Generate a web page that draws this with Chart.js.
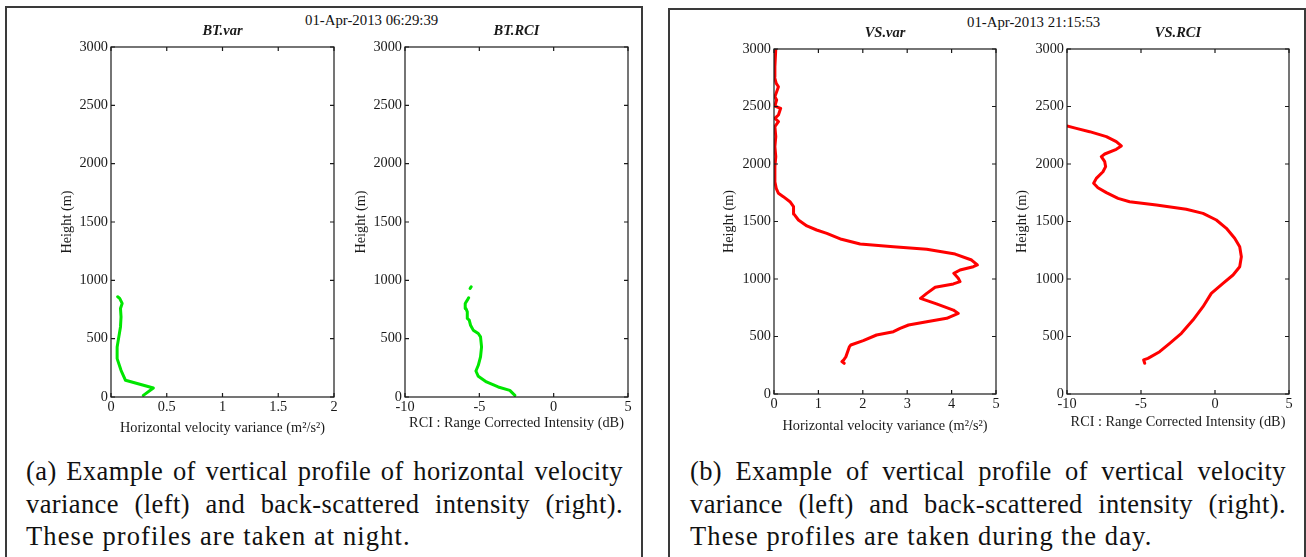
<!DOCTYPE html>
<html>
<head>
<meta charset="utf-8">
<script src="https://cdn.jsdelivr.net/npm/chart.js@4.4.1/dist/chart.umd.min.js"></script>
<style>
  html, body { margin: 0; padding: 0; background: #fff; }
  body { width: 1306px; height: 557px; position: relative; overflow: hidden; font-family: "Liberation Serif", serif; }
  .panel { position: absolute; border: 2px solid #3a3a3a; box-sizing: border-box; }
  .box { position: absolute; }
  .stamp { position: absolute; font-size: 14.8px; color: #111; white-space: nowrap; line-height: 16px; }
  .caption { position: absolute; font-size: 26.5px; line-height: 32.5px; color: #111; letter-spacing: 1.1px; }
  .caption div { white-space: nowrap; }
  .caption .full { text-align: justify; text-align-last: justify; letter-spacing: 0.4px; }
</style>
</head>
<body>

<div class="panel" style="left:5px; top:6px; width:638px; height:600px;"></div>
<div class="panel" style="left:668px; top:8px; width:638px; height:600px;"></div>

<div class="stamp" style="left:305px; top:12px;">01-Apr-2013 06:29:39</div>
<div class="stamp" style="left:967px; top:14px;">01-Apr-2013 21:15:53</div>

<div class="box" id="b1"><canvas id="c1"></canvas></div>
<div class="box" id="b2"><canvas id="c2"></canvas></div>
<div class="box" id="b3"><canvas id="c3"></canvas></div>
<div class="box" id="b4"><canvas id="c4"></canvas></div>

<div class="caption" style="left:26px; top:455px; width:597px;">
  <div class="full">(a) Example of vertical profile of horizontal velocity</div>
  <div class="full">variance (left) and back-scattered intensity (right).</div>
  <div>These profiles are taken at night.</div>
</div>
<div class="caption" style="left:690px; top:455px; width:596px;">
  <div class="full">(b) Example of vertical profile of vertical velocity</div>
  <div class="full">variance (left) and back-scattered intensity (right).</div>
  <div>These profiles are taken during the day.</div>
</div>

<script>
"use strict";

// night profile (BT) : horizontal velocity variance vs height
let btVarHeight = [14, 77, 143, 229, 329, 429, 515, 601, 687, 759, 802, 845, 859];
let btVarValue  = [0.29, 0.38, 0.13, 0.09, 0.055, 0.055, 0.07, 0.085, 0.09, 0.085, 0.10, 0.078, 0.06];

// night profile (BT) : range corrected intensity, null = missing gate
let btRciHeight = [14, 57, 86, 129, 177, 223, 272, 344, 429, 515, 544, 573, 615, 658, 673, 730, 759, 802, 830, 850, 895, 930, 945];
let btRciValue  = [-2.61, -2.95, -3.73, -4.52, -5.07, -5.23, -5.07, -4.92, -4.85, -4.92, -5.07, -5.41, -5.59, -5.68, -5.81, -5.81, -5.90, -5.95, -5.81, -5.72, null, -5.62, -5.55];

// day profile (VS) : vertical velocity variance vs height
let vsVarHeight = [267, 282, 296, 325, 412, 426, 464, 513, 542, 571, 600, 629, 658, 701, 730, 783, 832, 875, 928, 957, 977,
    1006, 1049, 1078, 1107, 1122, 1165, 1217, 1258, 1281, 1304, 1345, 1397, 1426, 1461, 1513, 1565, 1629, 1672, 1716, 1745,
    1788, 1846, 1977, 2064, 2151, 2238, 2325, 2368, 2397, 2426, 2484, 2504, 2557, 2586, 2629, 2672, 2701, 2759, 2846, 3000];
let vsVarValue  = [1.58, 1.53, 1.57, 1.62, 1.70, 1.73, 2.01, 2.31, 2.69, 2.84, 3.03, 3.44, 3.89, 4.15, 4.04, 3.66, 3.30, 3.44, 3.63, 4.04, 4.19,
    4.15, 4.05, 4.19, 4.49, 4.58, 4.45, 4.08, 3.44, 2.69, 1.94, 1.52, 1.19, 0.96, 0.74, 0.55, 0.45, 0.44, 0.36, 0.21, 0.10,
    0.05, 0.02, 0.02, 0.04, 0.02, 0.04, 0.02, 0.10, 0.02, 0.10, 0.15, 0.02, 0.06, 0.02, 0.06, 0.10, 0.05, 0.01, 0.02, 0.04];

// day profile (VS) : range corrected intensity
let vsRciHeight = [267, 296, 310, 368, 441, 528, 643, 759, 875, 962, 1035, 1107, 1194, 1281, 1354, 1441, 1513, 1571, 1606, 1643,
    1672, 1701, 1751, 1794, 1832, 1875, 1933, 1977, 2020, 2064, 2087, 2128, 2157, 2194, 2238, 2281, 2310, 2330];
let vsRciValue  = [-4.75, -4.82, -4.53, -3.74, -3.06, -2.27, -1.49, -0.81, -0.25, 0.54, 1.22, 1.67, 1.78, 1.67, 1.33, 0.77, 0.09, -0.81, -1.94, -3.96,
    -5.77, -6.55, -7.34, -7.91, -8.20, -8.02, -7.57, -7.39, -7.45, -7.68, -7.45, -6.67, -6.33, -6.67, -7.34, -8.47, -9.37, -10.0];

let varTicks = [0, 0.5, 1, 1.5, 2];
let rciTicks = [-10, -5, 0, 5];
let vsVarTicks = [0, 1, 2, 3, 4, 5];
let heightTicks = [0, 500, 1000, 1500, 2000, 2500, 3000];

const GREEN = '#00e600';
const RED = '#ff0000';
const INK = '#1a1a1a';
const FONT = 'Liberation Serif';
const FS = 14.3;
const LH = FS * 1.2;          // line height of the axis font
const TOP_PAD = 28;           // room above the plot for the panel title

// MATLAB-like box: frame on all sides with ticks pointing inwards, title over the plot
const frameTicks = {
    id: 'frameTicks',
    afterDraw(chart) {
        let ctx = chart.ctx;
        let a = chart.chartArea;
        let sx = chart.scales.x;
        let sy = chart.scales.y;
        ctx.save();
        ctx.strokeStyle = INK;
        ctx.lineWidth = 1.2;
        ctx.beginPath();
        sx.ticks.forEach(function (t) {
            let px = sx.getPixelForValue(t.value);
            ctx.moveTo(px, a.bottom); ctx.lineTo(px, a.bottom - 4);
            ctx.moveTo(px, a.top); ctx.lineTo(px, a.top + 4);
        });
        sy.ticks.forEach(function (t) {
            let py = sy.getPixelForValue(t.value);
            ctx.moveTo(a.left, py); ctx.lineTo(a.left + 4, py);
            ctx.moveTo(a.right, py); ctx.lineTo(a.right - 4, py);
        });
        ctx.stroke();
        ctx.strokeRect(a.left, a.top, a.right - a.left, a.bottom - a.top);

        let title = chart.options.plugins.frameTicks.title;
        ctx.fillStyle = INK;
        ctx.font = 'italic bold 14.5px "' + FONT + '"';
        ctx.textAlign = 'center';
        ctx.textBaseline = 'middle';
        ctx.fillText(title, (a.left + a.right) / 2, a.top - 15.5);
        ctx.restore();
    }
};

function toPoints(xs, ys) {
    return ys.map(function (h, i) {
        return xs[i] === null ? { x: null, y: null } : { x: xs[i], y: h };
    });
}

function profile(id, box, opts) {
    // box: plot rectangle plus where the two axis titles sit
    let left = Math.round(box.yTitleX - LH / 2);
    let top = Math.round(box.t) - TOP_PAD;
    let right = Math.round(box.r) + 10;
    let xH = Math.round(box.xTitleY - box.b + LH / 2);
    let bottom = Math.round(box.b) + xH;
    let yW = Math.round(box.l) - left;

    let holder = document.getElementById('b' + id);
    holder.style.left = left + 'px';
    holder.style.top = top + 'px';
    holder.style.width = (right - left) + 'px';
    holder.style.height = (bottom - top) + 'px';

    let tickFont = { family: FONT, size: FS };

    new Chart(document.getElementById('c' + id), {
        type: 'scatter',
        data: {
            datasets: [{
                data: toPoints(opts.xs, opts.ys),
                showLine: true,
                spanGaps: false,
                borderColor: opts.color,
                borderWidth: 3,
                borderJoinStyle: 'round',
                borderCapStyle: 'round',
                pointRadius: 0,
                tension: 0
            }]
        },
        options: {
            responsive: true,
            maintainAspectRatio: false,
            animation: false,
            events: [],
            layout: { padding: { left: 0, top: TOP_PAD, right: 10, bottom: 0 } },
            plugins: {
                legend: { display: false },
                tooltip: { enabled: false },
                title: { display: false },
                frameTicks: { title: opts.title }
            },
            scales: {
                x: {
                    type: 'linear',
                    min: opts.xTicks[0],
                    max: opts.xTicks[opts.xTicks.length - 1],
                    afterBuildTicks: function (s) { s.ticks = opts.xTicks.map(function (v) { return { value: v }; }); },
                    afterFit: function (s) { s.height = xH; },
                    grid: { display: false, drawTicks: false },
                    border: { display: false },
                    ticks: { color: INK, font: tickFont, padding: 2, maxRotation: 0, autoSkip: false,
                        callback: function (v) { return String(v); } },
                    title: { display: true, text: opts.xLabel, color: INK, font: tickFont, padding: 0 }
                },
                y: {
                    type: 'linear',
                    min: 0,
                    max: 3000,
                    afterBuildTicks: function (s) { s.ticks = heightTicks.map(function (v) { return { value: v }; }); },
                    afterFit: function (s) { s.width = yW; },
                    grid: { display: false, drawTicks: false },
                    border: { display: false },
                    ticks: { color: INK, font: tickFont, padding: 3, autoSkip: false,
                        callback: function (v) { return String(v); } },
                    title: { display: true, text: 'Height (m)', color: INK, font: tickFont, padding: 0 }
                }
            }
        },
        plugins: [frameTicks]
    });
}

function main() {
    profile(1, { l: 111, t: 47, r: 334, b: 397, yTitleX: 68, xTitleY: 428 }, {
        title: 'BT.var', xs: btVarValue, ys: btVarHeight, color: GREEN, xTicks: varTicks,
        xLabel: 'Horizontal velocity variance (m\u00B2/s\u00B2)'
    });
    profile(2, { l: 405, t: 47, r: 628, b: 397, yTitleX: 362, xTitleY: 423 }, {
        title: 'BT.RCI', xs: btRciValue, ys: btRciHeight, color: GREEN, xTicks: rciTicks,
        xLabel: 'RCI : Range Corrected Intensity (dB)'
    });
    profile(3, { l: 774, t: 49, r: 996, b: 394, yTitleX: 730, xTitleY: 426 }, {
        title: 'VS.var', xs: vsVarValue, ys: vsVarHeight, color: RED, xTicks: vsVarTicks,
        xLabel: 'Horizontal velocity variance (m\u00B2/s\u00B2)'
    });
    profile(4, { l: 1067, t: 49, r: 1289, b: 394, yTitleX: 1023, xTitleY: 422 }, {
        title: 'VS.RCI', xs: vsRciValue, ys: vsRciHeight, color: RED, xTicks: rciTicks,
        xLabel: 'RCI : Range Corrected Intensity (dB)'
    });
}

document.addEventListener('DOMContentLoaded', main);
</script>
</body>
</html>
